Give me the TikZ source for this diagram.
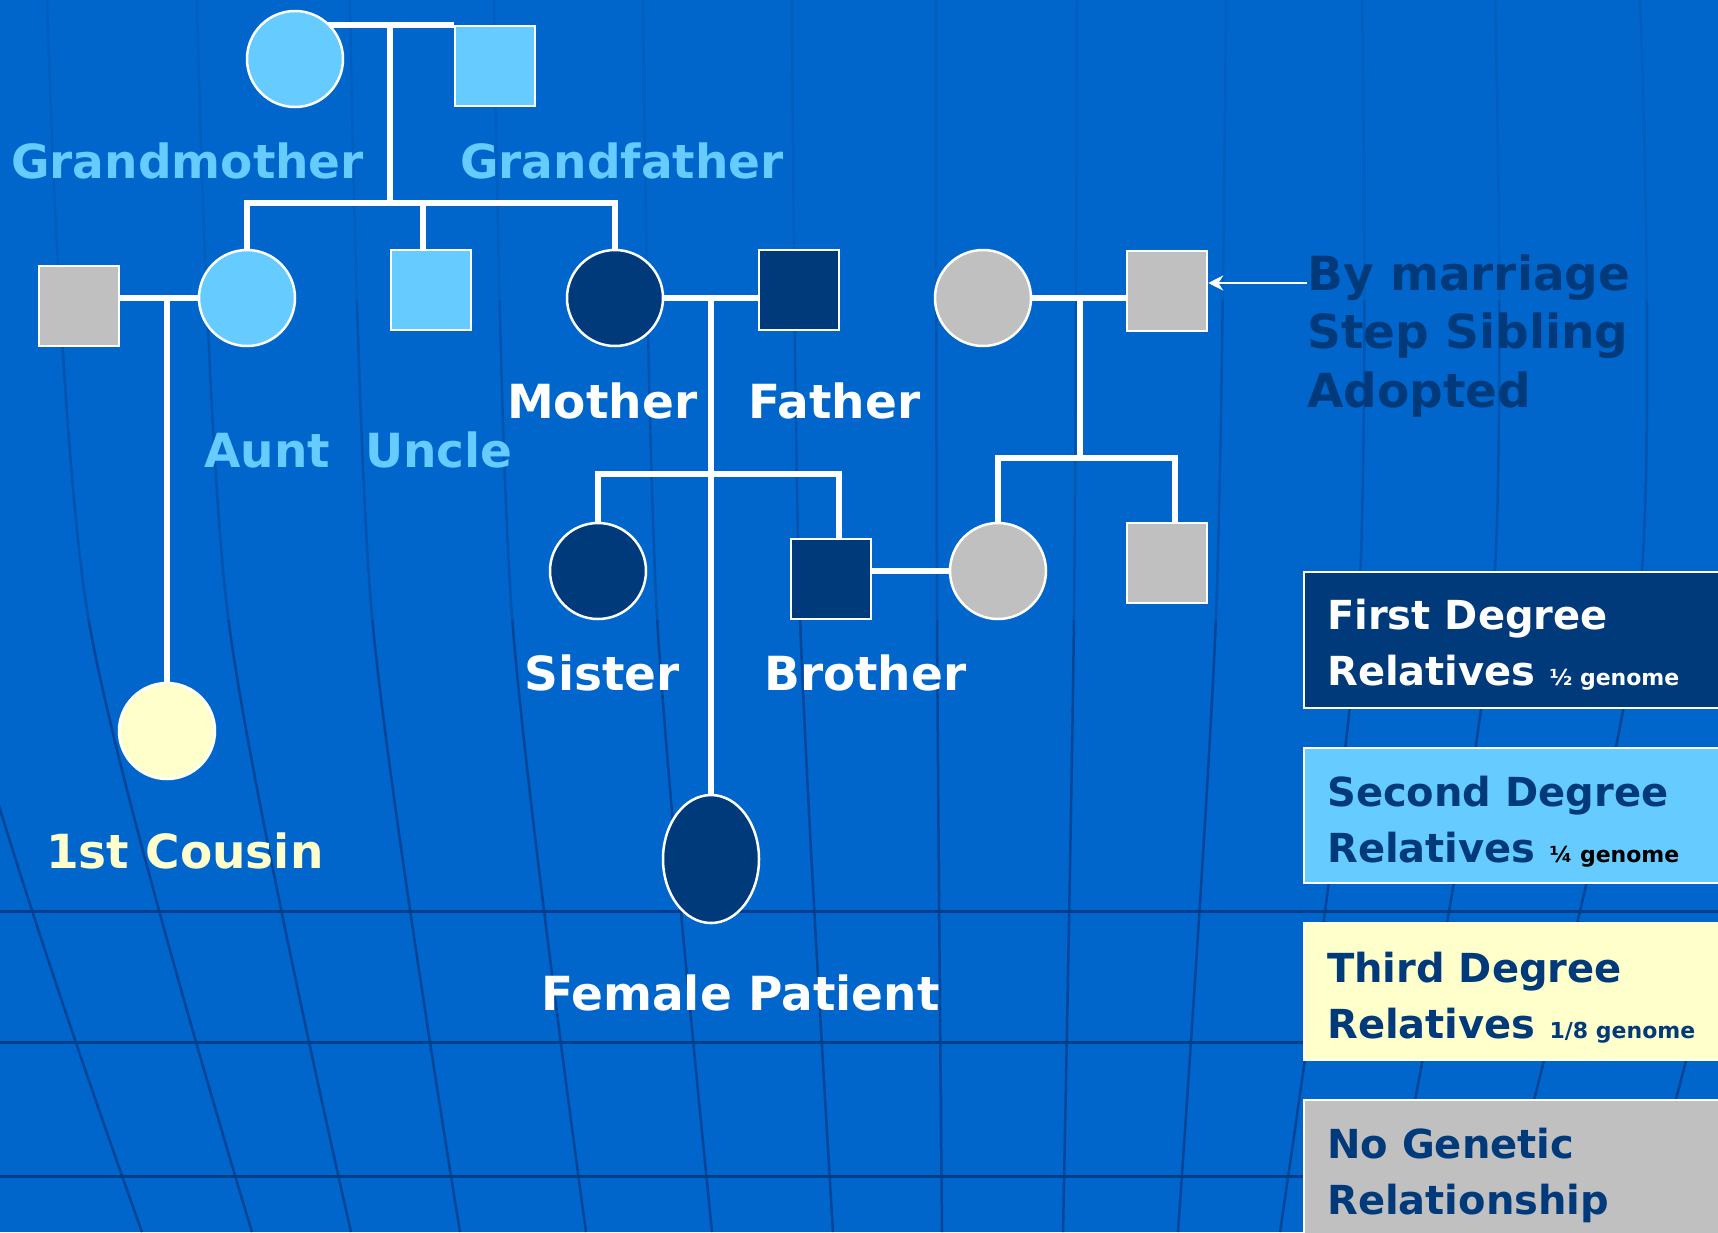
\documentclass[tikz,border=0pt]{standalone}
\usepackage{fontspec}
\setmainfont{DejaVu Sans}
\usetikzlibrary{arrows.meta, shapes.geometric}
\definecolor{bg}{HTML}{0066CC}
\definecolor{sky}{HTML}{66CCFF}
\definecolor{navy}{HTML}{003A7A}
\definecolor{ash}{HTML}{C0C0C0}
\definecolor{cream}{HTML}{FFFFCC}
\definecolor{grid}{HTML}{003D8A}
\pgfdeclarelayer{back}
\pgfdeclarelayer{links}
\pgfsetlayers{back,links,main}

\begin{document}
\begin{tikzpicture}[x=1pt, y=-1pt,
    fem/.style={circle, draw=white, line width=2.5pt, minimum size=96pt, inner sep=0pt},
    mal/.style={rectangle, draw=white, line width=2.5pt, minimum size=80pt, inner sep=0pt},
    keybox/.style={rectangle, draw=white, line width=2pt, anchor=north west,
      minimum width=420pt, inner sep=0pt},
    lbl/.style={anchor=base west, inner sep=0pt, font=\fontsize{47}{56}\selectfont\bfseries},
    key/.style={anchor=base west, inner sep=0pt, font=\fontsize{40}{48}\selectfont\bfseries},
    link/.style={white, line width=5.5pt}]
  \useasboundingbox (0,0) rectangle (1718,1232);

  % background with globe lines
  \begin{pgfonlayer}{back}
    \fill[bg] (0,0) rectangle (1718,1232);
    \foreach \ya/\yb/\mix in {0/300/20, 300/620/45, 620/1232/80} {
      \begin{scope}
        \clip (0,\ya) rectangle (1718,\yb);
        \foreach \xa/\xb/\xc in {-100/-52/142, 47/88/252, 197/228/351, 350/372/460,
            494/512/586, 643/657/712, 792/800/833, 936/937/942, 1077/1074/1063,
            1226/1216/1178, 1362/1358/1280, 1495/1492/1390, 1640/1638/1500,
            1790/1785/1640}
          \draw[grid!\mix!bg, line width=2.5pt] plot[smooth] coordinates {(\xa,0) (\xb,616) (\xc,1232)};
      \end{scope}
    }
    \foreach \y in {911, 1042, 1176}
      \draw[grid, line width=3pt] (0,\y) -- (1718,\y);
  \end{pgfonlayer}

  % persons
  \node[fem, fill=sky] (gm) at (295,59) {};
  \node[mal, fill=sky] (gf) at (495,66) {};
  \node[mal, fill=ash] (ah) at (79,306) {};
  \node[fem, fill=sky] (aunt) at (247,298) {};
  \node[mal, fill=sky] (uncle) at (431,290) {};
  \node[fem, fill=navy] (mother) at (615,298) {};
  \node[mal, fill=navy] (father) at (799,290) {};
  \node[fem, fill=ash] (stepm) at (983,298) {};
  \node[mal, fill=ash] (stepf) at (1167,291) {};
  \node[fem, fill=navy] (sister) at (598,571) {};
  \node[mal, fill=navy] (brother) at (831,579) {};
  \node[fem, fill=ash] (bw) at (998,571) {};
  \node[mal, fill=ash] (stepb) at (1167,563) {};
  \node[fem, fill=cream] (cousin) at (167,731) {};
  \node[fem, ellipse, minimum height=128pt, fill=navy] (patient) at (711,859) {};

  % connectors
  \coordinate (gp) at (390,27);
  \coordinate (sib1) at (390,203);
  \coordinate (sib2) at (711,474);
  \coordinate (stp) at (1080,298);
  \coordinate (sib3) at (1080,458);
  \coordinate (ud) at ([xshift=-8pt]uncle.north);
  \begin{pgfonlayer}{links}
    \draw[link] (gf.north west) -- (gf.north west -| gm);
    \draw[link] (gp) -- (sib1);
    \draw[link] (aunt) |- (sib1) -| (mother);
    \draw[link] (ud |- sib1) -- (ud);
    \draw[link] (ah.east |- aunt) -- (aunt);
    \draw[link] (cousin |- aunt) -- (cousin);
    \draw[link] (mother) -- (mother -| father.west);
    \draw[link] (patient |- mother) -- (patient);
    \draw[link] (sister) |- (sib2) -| ([xshift=8pt]brother.north);
    \draw[link] (brother.east |- bw) -- (bw);
    \draw[link] (stepm) -- (stepm -| stepf.west);
    \draw[link] (stp) -- (sib3);
    \draw[link] (bw) |- (sib3) -| ([xshift=8pt]stepb.north);
  \end{pgfonlayer}

  % labels
  \node[lbl, text=sky] (gmlbl) at (11,178) {Grandmother};
  \node[lbl, text=sky] (gflbl) at (460,178) {Grandfather};
  \node[lbl, text=sky] (auntlbl) at (204,467) {Aunt};
  \node[lbl, text=sky] (unclelbl) at (365,467) {Uncle};
  \node[lbl, text=white] (mlbl) at (507,418) {Mother};
  \node[lbl, text=white] (flbl) at (748,418) {Father};
  \node[lbl, text=white] (slbl) at (524,690) {Sister};
  \node[lbl, text=white] (blbl) at (764,690) {Brother};
  \node[lbl, text=cream] (clbl) at (46,868) {1st Cousin};
  \node[lbl, text=white] (plbl) at (541,1010) {Female Patient};
  \node[lbl, text=navy] (bym) at (1307,290) {By marriage};
  \node[lbl, text=navy] (ssib) at (1307,348) {Step Sibling};
  \node[lbl, text=navy] (adop) at (1307,407) {Adopted};

  \coordinate (arr) at ([yshift=7pt]bym.base west);
  \draw[white, line width=2.5pt, -{Stealth[length=15pt, width=15pt]}] (arr) -- (arr -| stepf.east);

  % key
  \node[keybox, fill=navy, minimum height=136pt] (k1) at (1303,571) {};
  \node[keybox, fill=sky, minimum height=135pt] (k2) at (1303,747) {};
  \node[keybox, fill=cream, minimum height=137pt] (k3) at (1303,922) {};
  \node[keybox, fill=ash, minimum height=150pt] (k4) at (1303,1099) {};
  \node[key, text=white] (k1a) at (1327,629) {First Degree};
  \node[key, text=white] (k1b) at (1327,685) {Relatives {\fontsize{22}{26}\selectfont ½ genome}};
  \node[key, text=navy] (k2a) at (1327,806) {Second Degree};
  \node[key, text=navy] (k2b) at (1327,862) {Relatives {\fontsize{22}{26}\selectfont\color{black} ¼ genome}};
  \node[key, text=navy] (k3a) at (1327,982) {Third Degree};
  \node[key, text=navy] (k3b) at (1327,1038) {Relatives {\fontsize{22}{26}\selectfont 1/8 genome}};
  \node[key, text=navy] (k4a) at (1327,1158) {No Genetic};
  \node[key, text=navy] (k4b) at (1327,1214) {Relationship};
\end{tikzpicture}
\end{document}
